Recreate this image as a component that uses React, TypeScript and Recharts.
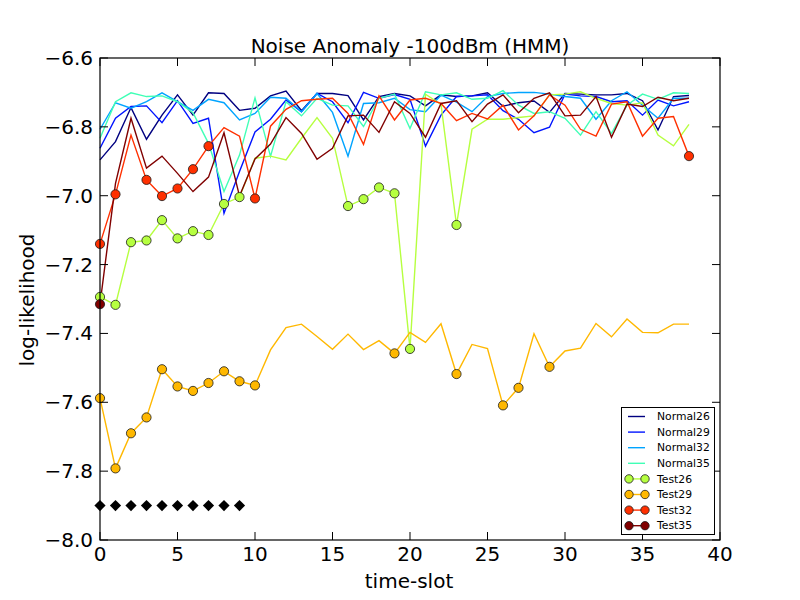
import { Line, LineChart, XAxis, YAxis } from 'recharts';

const timeSlots = [0, 1, 2, 3, 4, 5, 6, 7, 8, 9, 10, 11, 12, 13, 14, 15, 16, 17, 18, 19, 20, 21, 22, 23, 24, 25, 26, 27, 28, 29, 30, 31, 32, 33, 34, 35, 36, 37, 38];

const normal26 = [-6.896, -6.843, -6.744, -6.836, -6.766, -6.707, -6.766, -6.701, -6.703, -6.752, -6.746, -6.71, -6.696, -6.753, -6.703, -6.703, -6.709, -6.78, -6.712, -6.703, -6.71, -6.739, -6.707, -6.712, -6.71, -6.701, -6.74, -6.73, -6.725, -6.758, -6.703, -6.705, -6.707, -6.707, -6.703, -6.724, -6.809, -6.712, -6.709];
const normal29 = [-6.862, -6.775, -6.741, -6.739, -6.788, -6.724, -6.79, -6.775, -7.051, -6.93, -6.815, -6.778, -6.722, -6.756, -6.703, -6.727, -6.788, -6.7, -6.717, -6.706, -6.72, -6.856, -6.766, -6.712, -6.71, -6.707, -6.753, -6.778, -6.817, -6.801, -6.705, -6.71, -6.712, -6.727, -6.724, -6.766, -6.722, -6.739, -6.727];
const normal32 = [-6.807, -6.73, -6.746, -6.727, -6.701, -6.727, -6.752, -6.72, -6.73, -6.78, -6.761, -6.714, -6.717, -6.756, -6.703, -6.758, -6.885, -6.732, -6.73, -6.717, -6.75, -6.756, -6.708, -6.728, -6.756, -6.712, -6.703, -6.7, -6.7, -6.705, -6.712, -6.717, -6.778, -6.724, -6.698, -6.737, -6.775, -6.717, -6.717];
const normal35 = [-6.833, -6.727, -6.701, -6.712, -6.71, -6.727, -6.759, -6.848, -6.988, -6.882, -6.716, -6.886, -6.727, -6.768, -6.717, -6.737, -6.739, -6.799, -6.717, -6.705, -6.805, -6.698, -6.707, -6.701, -6.72, -6.717, -6.695, -6.737, -6.761, -6.756, -6.775, -6.824, -6.756, -6.819, -6.737, -6.705, -6.72, -6.701, -6.703];

const test26 = [-7.294, -7.317, -7.135, -7.13, -7.071, -7.124, -7.103, -7.114, -7.024, -7.004, -6.891, -6.885, -6.896, -6.833, -6.773, -6.833, -7.03, -7.01, -6.976, -6.993, -7.445, -6.705, -6.735, -7.085, -6.807, -6.778, -6.778, -6.773, -6.768, -6.707, -6.705, -6.698, -6.717, -6.732, -6.737, -6.73, -6.824, -6.855, -6.793];
const test29 = [-7.588, -7.792, -7.69, -7.644, -7.504, -7.554, -7.567, -7.544, -7.51, -7.539, -7.551, -7.448, -7.383, -7.373, -7.409, -7.446, -7.402, -7.447, -7.421, -7.458, -7.397, -7.426, -7.372, -7.518, -7.432, -7.444, -7.609, -7.558, -7.401, -7.497, -7.451, -7.443, -7.371, -7.41, -7.358, -7.397, -7.398, -7.373, -7.373];
const test32 = [-7.14, -6.996, -6.824, -6.954, -7.001, -6.979, -6.923, -6.856, -6.802, -6.827, -7.008, -6.798, -6.749, -6.724, -6.72, -6.717, -6.761, -6.851, -6.71, -6.78, -6.722, -6.717, -6.732, -6.782, -6.761, -6.777, -6.737, -6.809, -6.768, -6.707, -6.737, -6.807, -6.827, -6.734, -6.727, -6.827, -6.775, -6.77, -6.885];
const test35 = [-7.315, -6.964, -6.775, -6.92, -6.885, -6.935, -6.988, -6.946, -6.817, -7.001, -6.893, -6.85, -6.773, -6.819, -6.894, -6.862, -6.768, -6.766, -6.816, -6.727, -6.761, -6.83, -6.732, -6.724, -6.785, -6.734, -6.707, -6.759, -6.717, -6.701, -6.768, -6.766, -6.712, -6.83, -6.734, -6.741, -6.714, -6.724, -6.717];

// slots where each test run is flagged
const test26Flags = [0, 1, 2, 3, 4, 5, 6, 7, 8, 9, 16, 17, 18, 19, 20, 23];
const test29Flags = [0, 1, 2, 3, 4, 5, 6, 7, 8, 9, 10, 19, 23, 26, 27, 29];
const test32Flags = [0, 1, 3, 4, 5, 6, 7, 10, 38];
const test35Flags = [0];

// ground-truth anomaly slots
const anomalySlots = [0, 1, 2, 3, 4, 5, 6, 7, 8, 9];
const anomalyLevel = -7.9;

const xTicks = [0, 5, 10, 15, 20, 25, 30, 35, 40];
const yTicks = [-8.0, -7.8, -7.6, -7.4, -7.2, -7.0, -6.8, -6.6];

const FONT = '"DejaVu Sans", sans-serif';
const PL = 100;
const PR = 720;
const PT = 58;
const PB = 540;

const normals = [
  { key: 'normal26', name: 'Normal26', color: '#000080' },
  { key: 'normal29', name: 'Normal29', color: '#0014ff' },
  { key: 'normal32', name: 'Normal32', color: '#00a4ff' },
  { key: 'normal35', name: 'Normal35', color: '#40ffb6' },
];

const tests = [
  { key: 'test26', name: 'Test26', color: '#b6ff40', flags: test26Flags },
  { key: 'test29', name: 'Test29', color: '#ffb800', flags: test29Flags },
  { key: 'test32', name: 'Test32', color: '#ff3000', flags: test32Flags },
  { key: 'test35', name: 'Test35', color: '#800000', flags: test35Flags },
];

const data = timeSlots.map((slot, i) => ({
  slot,
  normal26: normal26[i],
  normal29: normal29[i],
  normal32: normal32[i],
  normal35: normal35[i],
  test26: test26[i],
  test29: test29[i],
  test32: test32[i],
  test35: test35[i],
  truth: anomalySlots.includes(slot) ? anomalyLevel : null,
}));

const fmt = (v: number) => v.toFixed(1).replace('-', '\u2212');

function circleDot(flags: number[], color: string) {
  return (props: any) => {
    const { cx, cy, index } = props;
    if (!flags.includes(index) || cx == null || cy == null) return <g key={`c-${index}`} />;
    return <circle key={`c-${index}`} cx={cx} cy={cy} r={4.6} fill={color} stroke="#1a1a1a" strokeWidth={0.8} />;
  };
}

function diamondDot(props: any) {
  const { cx, cy, index } = props;
  if (cx == null || cy == null) return <g key={`d-${index}`} />;
  const s = 5.6;
  return (
    <polygon
      key={`d-${index}`}
      points={`${cx},${cy - s} ${cx + s},${cy} ${cx},${cy + s} ${cx - s},${cy}`}
      fill="#000"
    />
  );
}

function YTick({ x, y, payload }: any) {
  return (
    <g>
      <line x1={PL} x2={PL + 8} y1={y} y2={y} stroke="#000" />
      <line x1={PR - 8} x2={PR} y1={y} y2={y} stroke="#000" />
      <text x={x} y={y + 7} textAnchor="end" fontSize={20} fontFamily={FONT} fill="#000">
        {fmt(payload.value)}
      </text>
    </g>
  );
}

function XTick({ x, y, payload }: any) {
  return (
    <g>
      <line x1={x} x2={x} y1={PB} y2={PB - 8} stroke="#000" />
      <line x1={x} x2={x} y1={PT} y2={PT + 8} stroke="#000" />
      <text x={x} y={y} textAnchor="middle" fontSize={20} fontFamily={FONT} fill="#000">
        {payload.value}
      </text>
    </g>
  );
}

function LegendBox() {
  const rowH = 15.6;
  return (
    <svg
      width={94}
      height={128}
      style={{ position: 'absolute', left: 620.5, top: 407, background: '#fff', border: '1px solid #000', boxSizing: 'border-box' }}
    >
      {normals.map((s, i) => (
        <g key={s.key}>
          <line x1={6} x2={23} y1={8.5 + i * rowH} y2={8.5 + i * rowH} stroke={s.color} strokeWidth={1.4} />
          <text x={35} y={12.2 + i * rowH} fontSize={10.8} fontFamily={FONT} fill="#000">{s.name}</text>
        </g>
      ))}
      {tests.map((s, j) => {
        const cy = 8.5 + (j + 4) * rowH;
        return (
          <g key={s.key}>
            <line x1={7} x2={23} y1={cy} y2={cy} stroke={s.color} strokeWidth={1.4} />
            <circle cx={7} cy={cy} r={4.2} fill={s.color} stroke="#1a1a1a" strokeWidth={0.8} />
            <circle cx={23} cy={cy} r={4.2} fill={s.color} stroke="#1a1a1a" strokeWidth={0.8} />
            <text x={35} y={cy + 3.7} fontSize={10.8} fontFamily={FONT} fill="#000">{s.name}</text>
          </g>
        );
      })}
    </svg>
  );
}

export default function App() {
  return (
    <div style={{ position: 'absolute', left: 0, top: 0, width: 800, height: 600, background: '#fff' }}>
      <LineChart width={800} height={600} data={data} margin={{ top: PT, right: 800 - PR, left: 0, bottom: 0 }}>
        <XAxis
          dataKey="slot"
          type="number"
          domain={[0, 40]}
          ticks={xTicks}
          height={60}
          axisLine={false}
          tickLine={false}
          tickSize={0}
          tickMargin={21}
          tick={<XTick />}
          interval={0}
        />
        <YAxis
          type="number"
          domain={[-8, -6.6]}
          ticks={yTicks}
          width={100}
          axisLine={false}
          tickLine={false}
          tickSize={0}
          tickMargin={7}
          tick={<YTick />}
          interval={0}
        />
        <Line dataKey="truth" stroke="none" dot={diamondDot} isAnimationActive={false} legendType="none" />
        {normals.map(s => (
          <Line key={s.key} dataKey={s.key} name={s.name} stroke={s.color} strokeWidth={1.4} dot={false} isAnimationActive={false} />
        ))}
        {tests.map(s => (
          <Line key={s.key} dataKey={s.key} name={s.name} stroke={s.color} strokeWidth={1.4} dot={circleDot(s.flags, s.color)} isAnimationActive={false} />
        ))}
      </LineChart>

      <svg width={800} height={600} style={{ position: 'absolute', left: 0, top: 0, pointerEvents: 'none' }}>
        <rect x={PL} y={PT} width={PR - PL} height={PB - PT} fill="none" stroke="#000" strokeWidth={1.2} />
        <text x={410} y={53} textAnchor="middle" fontSize={20} fontFamily={FONT} fill="#000">
          Noise Anomaly -100dBm (HMM)
        </text>
        <text x={409} y={588} textAnchor="middle" fontSize={20} fontFamily={FONT} fill="#000">
          time-slot
        </text>
        <text x={34} y={300} textAnchor="middle" fontSize={20} fontFamily={FONT} fill="#000" transform="rotate(-90 34 300)">
          log-likelihood
        </text>
      </svg>

      <LegendBox />
    </div>
  );
}
